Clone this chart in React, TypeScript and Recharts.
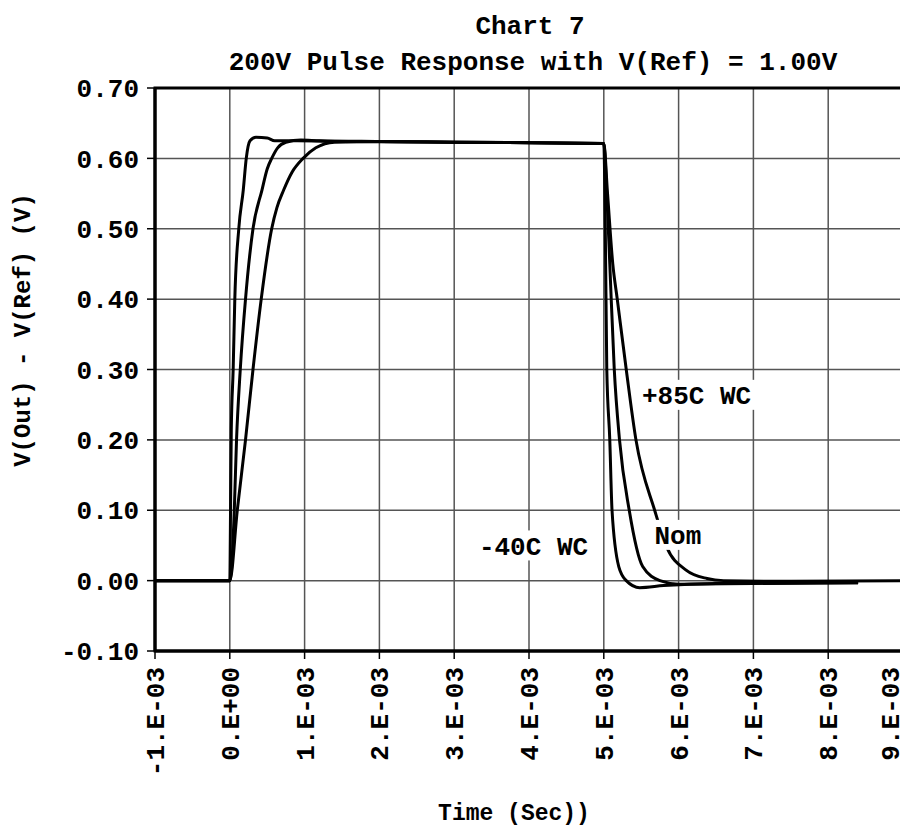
import { LineChart, Line, XAxis, YAxis, CartesianGrid, ReferenceArea, ReferenceDot } from "recharts";

// time in ms, values in volts
const coldTimeMs = [-1, 0, 0.01, 0.02, 0.045, 0.067, 0.12, 0.18, 0.22, 0.27, 0.35, 0.5, 0.6, 0.9, 1.5, 3, 5, 5.02, 5.04, 5.08, 5.11, 5.2, 5.3, 5.48, 5.8, 6.5, 8.4];
const coldValue = [0, 0, 0.1, 0.215, 0.3, 0.4, 0.5, 0.555, 0.6, 0.625, 0.63, 0.629, 0.625, 0.625, 0.624, 0.623, 0.621, 0.5, 0.3, 0.2, 0.1, 0.02, 0.0, -0.01, -0.007, -0.004, -0.003];

const nomTimeMs = [-1, 0, 0.06, 0.09, 0.14, 0.21, 0.31, 0.43, 0.5, 0.56, 0.64, 0.75, 0.95, 1.2, 2, 3, 5, 5.04, 5.08, 5.14, 5.21, 5.34, 5.52, 5.75, 6.0, 7, 8.4];
const nomValue = [0, 0, 0.1, 0.2, 0.3, 0.4, 0.5, 0.555, 0.585, 0.6, 0.615, 0.623, 0.626, 0.625, 0.624, 0.623, 0.621, 0.55, 0.45, 0.3, 0.2, 0.1, 0.02, 0.0, -0.005, -0.004, -0.003];

const hotTimeMs = [-1, 0, 0.1, 0.21, 0.31, 0.42, 0.56, 0.63, 0.72, 0.83, 0.98, 1.15, 1.4, 2, 3, 5, 5.05, 5.12, 5.18, 5.3, 5.43, 5.68, 5.84, 6.1, 6.38, 6.6, 7.5, 9];
const hotValue = [0, 0, 0.1, 0.2, 0.3, 0.4, 0.5, 0.53, 0.555, 0.58, 0.6, 0.615, 0.623, 0.624, 0.623, 0.621, 0.55, 0.45, 0.4, 0.3, 0.2, 0.1, 0.048, 0.015, 0.003, 0.0, -0.001, 0];

const xTicksMs = [-1, 0, 1, 2, 3, 4, 5, 6, 7, 8, 9];
const yTicks = [-0.1, 0, 0.1, 0.2, 0.3, 0.4, 0.5, 0.6, 0.7];

const curveLabels = [
  { text: "+85C WC", tMs: 6.24, v: 0.264 },
  { text: "Nom", tMs: 5.99, v: 0.065 },
  { text: "-40C WC", tMs: 4.06, v: 0.05 },
];

const build = (ts: number[], vs: number[]) => ts.map((t, i) => ({ t: t / 1000, v: vs[i] }));
const coldData = build(coldTimeMs, coldValue);
const nomData = build(nomTimeMs, nomValue);
const hotData = build(hotTimeMs, hotValue);

const FONT = "'Liberation Mono', 'Courier New', monospace";

const fmtX = (v: number) => {
  const k = Math.round(v * 1000);
  return k === 0 ? "0.E+00" : `${k}.E-03`;
};

const XTick = (props: any) => {
  const { x, y, payload } = props;
  return (
    <g transform={`translate(${x},${y})`}>
      <text transform="rotate(-90)" x={-6} y={9} textAnchor="end" fontFamily={FONT} fontWeight="bold" fontSize={26} fill="#000">
        {fmtX(payload.value)}
      </text>
    </g>
  );
};

const BoxLabel = (text: string) => (props: any) => {
  const { viewBox } = props;
  const cx = viewBox.x + (viewBox.width || 0) / 2;
  const cy = viewBox.y + (viewBox.height || 0) / 2;
  const w = text.length * 15.6 + 8;
  return (
    <g>
      <rect x={cx - w / 2} y={cy - 15} width={w} height={30} fill="#fff" />
      <text x={cx} y={cy} dy="0.35em" textAnchor="middle" fontFamily={FONT} fontWeight="bold" fontSize={26} fill="#000">
        {text}
      </text>
    </g>
  );
};

export default function App() {
  return (
    <div style={{ position: "relative", width: 900, height: 821 }}>
      <LineChart width={900} height={821} margin={{ top: 80, right: 5, left: 0, bottom: 0 }}>
        <CartesianGrid stroke="#555" strokeWidth={1.5} />
        <XAxis
          type="number"
          dataKey="t"
          domain={[-0.001, 0.009]}
          ticks={xTicksMs.map((k) => k / 1000)}
          height={178}
          tickSize={8}
          tickLine={{ stroke: "#000", strokeWidth: 1.5 }}
          axisLine={{ stroke: "#000", strokeWidth: 3 }}
          tick={<XTick />}
          allowDataOverflow
        />
        <YAxis
          type="number"
          dataKey="v"
          domain={[-0.1, 0.7]}
          ticks={yTicks}
          width={147}
          tickSize={8}
          tickMargin={8}
          tickFormatter={(v: number) => v.toFixed(2)}
          tickLine={{ stroke: "#000", strokeWidth: 1.5 }}
          axisLine={{ stroke: "#000", strokeWidth: 3 }}
          tick={{ fontFamily: FONT, fontWeight: "bold", fontSize: 26, fill: "#000" }}
          allowDataOverflow
        />
        <ReferenceArea x1={-0.001} x2={0.009} y1={-0.1} y2={0.7} fill="none" stroke="#000" strokeWidth={3} fillOpacity={0} />
        <Line data={coldData} dataKey="v" type="monotone" stroke="#000" strokeWidth={3} dot={false} isAnimationActive={false} />
        <Line data={nomData} dataKey="v" type="monotone" stroke="#000" strokeWidth={3} dot={false} isAnimationActive={false} />
        <Line data={hotData} dataKey="v" type="monotone" stroke="#000" strokeWidth={3} dot={false} isAnimationActive={false} />
        {curveLabels.map((l) => (
          <ReferenceDot key={l.text} x={l.tMs / 1000} y={l.v} r={0} stroke="none" fill="none" label={BoxLabel(l.text)} />
        ))}
      </LineChart>
      <svg width={900} height={821} style={{ position: "absolute", left: 0, top: 0, pointerEvents: "none" }}>
        <text x={522} y={26} textAnchor="middle" fontFamily={FONT} fontWeight="bold" fontSize={26} fill="#000">Chart 7</text>
        <text x={525} y={62} textAnchor="middle" fontFamily={FONT} fontWeight="bold" fontSize={26} fill="#000">
          200V Pulse Response with V(Ref) = 1.00V
        </text>
        <text x={22} y={322} transform="rotate(-90, 22, 322)" textAnchor="middle" fontFamily={FONT} fontWeight="bold" fontSize={24} fill="#000">
          V(Out) - V(Ref) (V)
        </text>
        <text x={506} y={812} textAnchor="middle" fontFamily={FONT} fontWeight="bold" fontSize={23} fill="#000">Time (Sec))</text>
      </svg>
    </div>
  );
}
